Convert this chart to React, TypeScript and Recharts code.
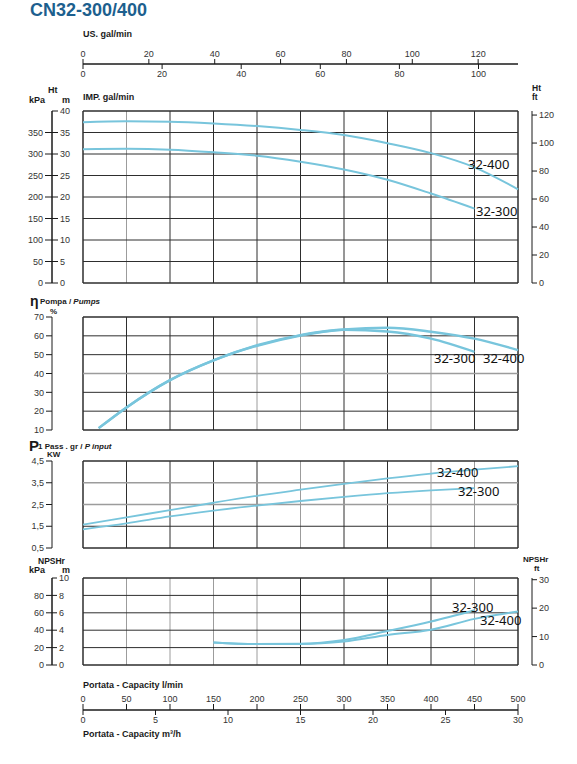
import React from 'react';
import { LineChart, Line, XAxis, YAxis, ReferenceLine } from 'recharts';

// capacity in l/min
const flow = [0, 50, 100, 150, 200, 250, 300, 350, 400, 450, 500];
const head400 = [37.4, 37.6, 37.5, 37.1, 36.5, 35.6, 34.4, 32.5, 30.2, 26.9, 21.8];
const head300 = [31.1, 31.2, 31.0, 30.4, 29.6, 28.2, 26.4, 24.0, 20.8, 17.3, null];

const effFlow = [18, 50, 100, 150, 200, 250, 300, 350, 400, 450, 500];
const eff300 = [11, 22, 36.5, 47, 55, 60.4, 63.2, 62.3, 58.5, 51.5, null];
const eff400 = [11, 22, 36.5, 47, 54.7, 60.2, 63.4, 64.3, 62.2, 58.5, 52.4];

const power400 = [1.57, 1.91, 2.24, 2.58, 2.9, 3.18, 3.45, 3.7, 3.92, 4.1, 4.26];
const power300 = [1.36, 1.63, 1.95, 2.22, 2.45, 2.66, 2.85, 3.02, 3.15, 3.25, null];

const npshFlow = [150, 200, 250, 300, 350, 400, 450, 500];
const npsh300 = [2.6, 2.42, 2.45, 2.88, 3.9, 5.0, 6.3, null];
const npsh400 = [2.6, 2.42, 2.42, 2.7, 3.45, 4.05, 5.3, 6.15];

// axis ticks
const lpmTicks = [0, 50, 100, 150, 200, 250, 300, 350, 400, 450, 500];
const m3hTicks = [0, 5, 10, 15, 20, 25, 30];
const usGalTicks = [0, 20, 40, 60, 80, 100, 120];
const impGalTicks = [0, 20, 40, 60, 80, 100];
const headMTicks = [0, 5, 10, 15, 20, 25, 30, 35, 40];
const headKpaTicks = [0, 50, 100, 150, 200, 250, 300, 350];
const headFtTicks = [0, 20, 40, 60, 80, 100, 120];
const effTicks = [10, 20, 30, 40, 50, 60, 70];
const powerTicks = [0.5, 1.5, 2.5, 3.5, 4.5];
const npshMTicks = [0, 2, 4, 6, 8, 10];
const npshKpaTicks = [0, 20, 40, 60, 80];
const npshFtTicks = [0, 10, 20, 30];

const W = 577;
const LINE = '#78c5dc';
const INK = '#1a1a1a';
const GRID = '#2e2e2e';
const GRID_LIGHT = '#9c9c9c';
const SANS = '"Liberation Sans", Arial, sans-serif';
// plot spans x=52..532 so the y axes sit at the frame edges; 0..500 l/min sits at 83..518
const X_DOMAIN: [number, number] = [(52 - 83) / 0.87, (532 - 83) / 0.87];
const tickStyle = { fill: '#333', fontSize: 9, fontFamily: SANS };

const pts = (xs: number[], ys: (number | null)[]) =>
  xs.map((q, i) => ({ q, v: ys[i] })).filter((p) => p.v != null);
const comma = (v: number) => v.toFixed(1).replace('.', ',');

const Txt = ({ x, y, size = 9, bold = true, font = SANS, color = INK, children }: any) => (
  <div
    style={{
      position: 'absolute', left: x, top: y, transform: 'translateY(-50%)',
      fontSize: size, fontWeight: bold ? 700 : 400,
      fontFamily: font, color, lineHeight: 1, whiteSpace: 'nowrap',
    }}
  >
    {children}
  </div>
);

const CurveLabel = ({ x, y, children }: any) => (
  <Txt x={x} y={y} size={13} bold={false} font='"Noto Sans", "Open Sans", sans-serif' color="#111">
    {children}
  </Txt>
);

const gridLines = (yId: string, yMin: number, yMax: number, hVals: number[], lightH: number[], lightV: number[]) => [
  ...lpmTicks.map((v) => (
    <ReferenceLine
      key={`v${v}`}
      yAxisId={yId}
      x={v}
      stroke={lightV.includes(v) ? GRID_LIGHT : GRID}
      strokeWidth={v === 0 || v === 500 ? 1.5 : 1}
    />
  )),
  ...[yMin, ...hVals, yMax].map((h) => (
    <ReferenceLine
      key={`h${h}`}
      yAxisId={yId}
      segment={[{ x: 0, y: h }, { x: 500, y: h }]}
      stroke={lightH.includes(h) ? GRID_LIGHT : GRID}
      strokeWidth={h === yMin || h === yMax ? 1.5 : lightH.includes(h) ? 1.6 : 1}
    />
  )),
];

const curve = (yId: string, data: any[], width = 2) => (
  <Line
    yAxisId={yId}
    data={data}
    dataKey="v"
    type="monotone"
    stroke={LINE}
    strokeWidth={width}
    dot={false}
    isAnimationActive={false}
  />
);

// invisible series so an axis-only chart still has something bound to each scale
const anchor = (xId: string, ticks: number[]) => (
  <Line
    xAxisId={xId}
    data={ticks.map((q) => ({ q, v: 0.5 }))}
    dataKey="v"
    stroke="none"
    dot={false}
    activeDot={false}
    isAnimationActive={false}
  />
);

const hiddenX = <XAxis type="number" dataKey="q" domain={X_DOMAIN} allowDataOverflow hide />;

export default function App() {
  return (
    <div style={{ position: 'absolute', left: 0, top: 0, width: W, height: 764, background: '#fff' }}>
      <Txt x={30} y={10} size={18} color="#1d5f8e">CN32-300/400</Txt>

      {/* top flow axes */}
      <Txt x={83} y={34}>US. gal/min</Txt>
      <div style={{ position: 'absolute', left: 0, top: 20 }}>
        <LineChart width={W} height={62} margin={{ top: 24, right: 59, bottom: 6, left: 83 }}>
          <XAxis xAxisId="us" dataKey="q" type="number" orientation="top" height={20} domain={[0, 500 / 3.785]}
            ticks={usGalTicks} allowDataOverflow tickSize={5} stroke={INK} tick={tickStyle} />
          <XAxis xAxisId="imp" dataKey="q" type="number" orientation="top" mirror domain={[0, 500 / 4.546]}
            ticks={impGalTicks} allowDataOverflow tickSize={5} stroke={INK} tick={tickStyle} />
          <YAxis hide domain={[0, 1]} />
          {anchor('us', usGalTicks)}
          {anchor('imp', impGalTicks)}
        </LineChart>
      </div>

      {/* head */}
      <Txt x={48} y={90}>Ht</Txt>
      <Txt x={29} y={100}>kPa</Txt>
      <Txt x={62} y={100}>m</Txt>
      <Txt x={83} y={97}>IMP. gal/min</Txt>
      <Txt x={532} y={88} size={8.5}>Ht</Txt>
      <Txt x={532} y={97} size={8.5}>ft</Txt>
      <div style={{ position: 'absolute', left: 0, top: 95 }}>
        <LineChart width={W} height={193} margin={{ top: 16, right: 0, bottom: 5, left: 12 }}>
          {hiddenX}
          <YAxis yAxisId="kpa" orientation="left" width={40} domain={[0, 400]} ticks={headKpaTicks} allowDataOverflow
            tickSize={7} stroke={INK} tick={tickStyle} />
          <YAxis yAxisId="m" orientation="left" mirror domain={[0, 40]} ticks={headMTicks} allowDataOverflow
            tickSize={6} stroke={INK} tick={tickStyle} />
          <YAxis yAxisId="ft" orientation="right" width={45} domain={[0, 122.9]} ticks={headFtTicks} allowDataOverflow
            tickSize={5} stroke={INK} tick={tickStyle} />
          {gridLines('m', 0, 40, [5, 10, 15, 20, 25, 30, 35], [], [50])}
          {curve('m', pts(flow, head400))}
          {curve('m', pts(flow, head300))}
        </LineChart>
      </div>
      <CurveLabel x={468} y={164}>32-400</CurveLabel>
      <CurveLabel x={476} y={211}>32-300</CurveLabel>

      {/* efficiency */}
      <Txt x={30} y={301} size={14}>η</Txt>
      <div style={{ position: 'absolute', left: 40, top: 302, transform: 'translateY(-50%)', fontFamily: SANS, fontSize: 8, fontWeight: 700, color: INK, whiteSpace: 'nowrap', lineHeight: 1 }}>
        Pompa / <i>Pumps</i>
      </div>
      <Txt x={50} y={312} size={8}>%</Txt>
      <div style={{ position: 'absolute', left: 0, top: 305 }}>
        <LineChart width={W} height={130} margin={{ top: 12, right: 45, bottom: 5, left: 12 }}>
          {hiddenX}
          <YAxis yAxisId="eff" orientation="left" width={40} domain={[10, 70]} ticks={effTicks} allowDataOverflow
            tickSize={6} stroke={INK} tick={tickStyle} />
          {gridLines('eff', 10, 70, [20, 30, 40, 50, 60], [40], [200, 250, 400])}
          {curve('eff', pts(effFlow, eff400), 2.4)}
          {curve('eff', pts(effFlow, eff300), 2.4)}
        </LineChart>
      </div>
      <CurveLabel x={434} y={358}>32-300</CurveLabel>
      <CurveLabel x={483} y={358}>32-400</CurveLabel>

      {/* power input */}
      <Txt x={29} y={445} size={15}>P</Txt>
      <div style={{ position: 'absolute', left: 38, top: 447, transform: 'translateY(-50%)', fontFamily: SANS, fontSize: 8, fontWeight: 700, color: INK, whiteSpace: 'nowrap', lineHeight: 1 }}>
        1 Pass . gr / <i>P input</i>
      </div>
      <Txt x={47} y={455} size={8}>KW</Txt>
      <div style={{ position: 'absolute', left: 0, top: 450 }}>
        <LineChart width={W} height={104} margin={{ top: 11, right: 45, bottom: 6, left: 12 }}>
          {hiddenX}
          <YAxis yAxisId="p" orientation="left" width={40} domain={[0.5, 4.5]} ticks={powerTicks} allowDataOverflow
            tickSize={6} stroke={INK} tick={tickStyle} tickFormatter={comma} />
          {gridLines('p', 0.5, 4.5, [1.5, 2.5, 3.5], [2.5, 3.5], [250, 400, 450])}
          {curve('p', pts(flow, power400), 1.8)}
          {curve('p', pts(flow, power300), 1.8)}
        </LineChart>
      </div>
      <CurveLabel x={437} y={472}>32-400</CurveLabel>
      <CurveLabel x={458} y={491}>32-300</CurveLabel>

      {/* NPSHr */}
      <Txt x={38} y={561} size={8.5}>NPSHr</Txt>
      <Txt x={29} y={570}>kPa</Txt>
      <Txt x={62} y={570}>m</Txt>
      <Txt x={523} y={560} size={8}>NPSHr</Txt>
      <Txt x={534} y={569} size={8}>ft</Txt>
      <div style={{ position: 'absolute', left: 0, top: 570 }}>
        <LineChart width={W} height={102} margin={{ top: 8, right: 0, bottom: 7, left: 12 }}>
          {hiddenX}
          <YAxis yAxisId="kpa" orientation="left" width={40} domain={[0, 100]} ticks={npshKpaTicks} allowDataOverflow
            tickSize={6} stroke={INK} tick={tickStyle} />
          <YAxis yAxisId="m" orientation="left" mirror domain={[0, 10]} ticks={npshMTicks} allowDataOverflow
            tickSize={5} stroke={INK} tick={tickStyle} />
          <YAxis yAxisId="ft" orientation="right" width={45} domain={[0, 30.6]} ticks={npshFtTicks} allowDataOverflow
            tickSize={5} stroke={INK} tick={tickStyle} />
          {gridLines('m', 0, 10, [2, 4, 6, 8], [], [50, 100, 150, 200, 450])}
          {curve('m', pts(npshFlow, npsh300))}
          {curve('m', pts(npshFlow, npsh400))}
        </LineChart>
      </div>
      <CurveLabel x={452} y={607}>32-300</CurveLabel>
      <CurveLabel x={480} y={620}>32-400</CurveLabel>

      {/* bottom capacity axes */}
      <Txt x={83} y={685}>Portata - Capacity l/min</Txt>
      <div style={{ position: 'absolute', left: 0, top: 680 }}>
        <LineChart width={W} height={60} margin={{ top: 4, right: 59, bottom: 10, left: 83 }}>
          <XAxis xAxisId="lpm" dataKey="q" type="number" orientation="bottom" mirror domain={[0, 500]} ticks={lpmTicks}
            allowDataOverflow tickSize={6} stroke={INK} tick={tickStyle} />
          <XAxis xAxisId="m3h" dataKey="q" type="number" orientation="bottom" height={20} domain={[0, 30]} ticks={m3hTicks}
            allowDataOverflow tickSize={5} stroke={INK} tick={tickStyle} />
          <YAxis hide domain={[0, 1]} />
          {anchor('lpm', lpmTicks)}
          {anchor('m3h', m3hTicks)}
        </LineChart>
      </div>
      <Txt x={83} y={734}>Portata - Capacity m³/h</Txt>
    </div>
  );
}
